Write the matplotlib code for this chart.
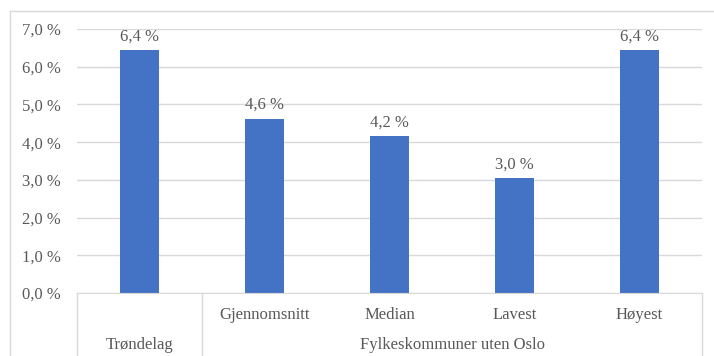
import matplotlib
matplotlib.use("Agg")
import matplotlib.pyplot as plt
from matplotlib.lines import Line2D

plt.rcParams["font.family"] = ["Liberation Serif", "DejaVu Serif"]

categories = ["Trøndelag", "Gjennomsnitt", "Median", "Lavest", "Høyest"]
values = [6.43, 4.62, 4.16, 3.04, 6.43]
group_labels = ["Trøndelag", "Fylkeskommuner uten Oslo"]
y_ticks = [0, 1, 2, 3, 4, 5, 6, 7]

TEXT = "#595959"
GRID = "#D9D9D9"
BAR = "#4472C4"

fig = plt.figure(figsize=(7.14, 3.56), dpi=100)
W, H = 714, 356
ax = fig.add_axes([77 / W, 1 - 293 / H, (702 - 77) / W, (293 - 29) / H])

x = list(range(len(categories)))
bars = ax.bar(x, values, width=0.31, color=BAR, zorder=3)

for xi, v in zip(x, values):
    ax.annotate(f"{v:.1f}".replace(".", ",") + " %", (xi, v),
                xytext=(0, 7), textcoords="offset points",
                ha="center", va="baseline", fontsize=12, color=TEXT)

ax.set_xlim(-0.5, len(categories) - 0.5)
ax.set_ylim(0, 7)
ax.set_yticks(y_ticks)
ax.set_yticklabels([f"{t:.1f}".replace(".", ",") + " %" for t in y_ticks])
ax.tick_params(axis="y", length=0, pad=11.5, labelsize=12, labelcolor=TEXT)
ax.set_xticks([])
ax.grid(axis="y", color=GRID, linewidth=1, zorder=0)
for s in ["top", "right", "left"]:
    ax.spines[s].set_visible(False)
ax.spines["bottom"].set_color(GRID)
ax.spines["bottom"].set_zorder(4)

# Multi-level category axis
trans = ax.get_xaxis_transform()
row1_y = -(315 - 293) / (293 - 29)
row2_y = -(345 - 293) / (293 - 29)
for xi, name in zip(x[1:], categories[1:]):
    ax.text(xi, row1_y, name, transform=trans, ha="center", va="center",
            fontsize=12, color=TEXT)
ax.text(0, row2_y, group_labels[0], transform=trans, ha="center",
        va="center", fontsize=12, color=TEXT)
ax.text(2.5, row2_y, group_labels[1], transform=trans, ha="center",
        va="center", fontsize=12, color=TEXT)

bottom = -(H - 293 + 5) / (293 - 29)
for xb in [-0.5, 0.5, len(categories) - 0.5]:
    ax.add_line(Line2D([xb, xb], [0, bottom], transform=trans,
                       color=GRID, linewidth=1, clip_on=False))

# Chart frame
fig.add_artist(Line2D([10 / W, 1.0], [1 - 11 / H, 1 - 11 / H],
                      transform=fig.transFigure, color=GRID, linewidth=1))
fig.add_artist(Line2D([10 / W, 10 / W], [0, 1 - 11 / H],
                      transform=fig.transFigure, color=GRID, linewidth=1))

fig.savefig("out.png", dpi=100, facecolor="white")
